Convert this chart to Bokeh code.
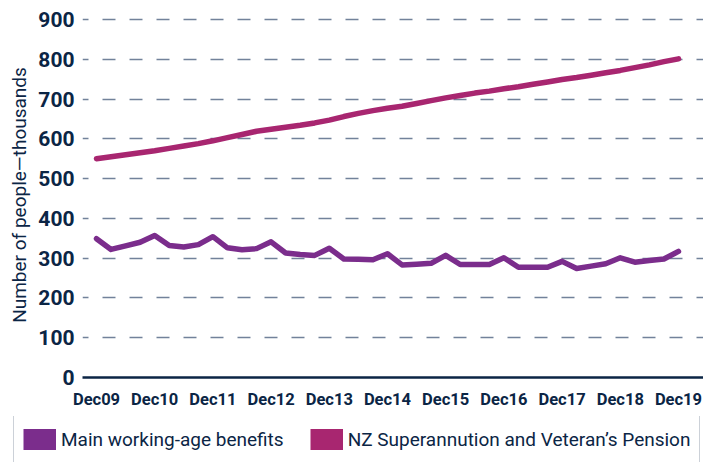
from bokeh.plotting import figure
from bokeh.layouts import column, row
from bokeh.models import (ColumnDataSource, Range1d, FixedTicker, Legend, LegendItem)
from bokeh.embed import file_html
from bokeh.resources import INLINE

# ---- data (thousands of people, quarterly Dec09 .. Dec19) ----
quarters = list(range(41))
benefits = [349, 322, 331, 340, 357, 332, 328, 334, 354, 326,
            321, 324, 341, 313, 309, 307, 325, 298, 297, 296,
            311, 283, 285, 287, 307, 284, 284, 284, 301, 277,
            277, 277, 292, 274, 280, 286, 301, 290, 294, 298,
            317]
superann = [550, 555, 560, 565, 570, 576, 582, 588, 595, 603,
            611, 619, 624, 629, 634, 640, 647, 656, 664, 671,
            677, 682, 689, 696, 703, 709, 715, 720, 726, 731,
            737, 743, 749, 754, 760, 766, 772, 779, 786, 794,
            801]
tick_quarters = [0, 4, 8, 12, 16, 20, 24, 28, 32, 36, 40]
tick_labels = ["Dec09", "Dec10", "Dec11", "Dec12", "Dec13", "Dec14",
               "Dec15", "Dec16", "Dec17", "Dec18", "Dec19"]
y_ticks = [0, 100, 200, 300, 400, 500, 600, 700, 800, 900]
series_names = ["Main working-age benefits",
                "NZ Superannution and Veteran\u2019s Pension"]

C_BEN = "#7b2d8c"
C_SUP = "#a82670"
NAVY = "#0b2545"
GRID = "#72829a"
FONT = "Roboto"

src = ColumnDataSource(dict(q=quarters, ben=benefits, sup=superann))

p = figure(width=703, height=416, output_backend="svg", toolbar_location=None,
           x_range=Range1d(-0.962, 41.72), y_range=Range1d(0, 917.6),
           min_border_left=82, min_border_right=0, min_border_top=12,
           min_border_bottom=39)
p.outline_line_color = None
p.background_fill_color = "white"

p.line("q", "sup", source=src, line_color=C_SUP, line_width=5.5,
       line_cap="round", line_join="round")
p.line("q", "ben", source=src, line_color=C_BEN, line_width=5.5,
       line_cap="round", line_join="round")

# axes
p.xaxis.ticker = FixedTicker(ticks=tick_quarters)
p.xaxis.major_label_overrides = {q: l for q, l in zip(tick_quarters, tick_labels)}
p.xaxis.major_label_text_font = FONT
p.xaxis.major_label_text_font_style = "bold"
p.xaxis.major_label_text_font_size = "16.5px"
p.xaxis.major_label_text_color = NAVY
p.xaxis.major_label_standoff = 12
p.xaxis.major_tick_out = 0
p.xaxis.major_tick_in = 0
p.xaxis.minor_tick_line_color = None
p.xaxis.axis_line_color = NAVY
p.xaxis.axis_line_width = 2.5

p.yaxis.ticker = FixedTicker(ticks=y_ticks)
p.yaxis.major_label_text_font = FONT
p.yaxis.major_label_text_font_style = "bold"
p.yaxis.major_label_text_font_size = "21px"
p.yaxis.major_label_text_color = NAVY
p.yaxis.major_label_standoff = 8
p.yaxis.major_tick_out = 0
p.yaxis.major_tick_in = 0
p.yaxis.minor_tick_line_color = None
p.yaxis.axis_line_color = None
p.yaxis.axis_label = "Number of people\u2014thousands"
p.yaxis.axis_label_text_font = FONT
p.yaxis.axis_label_text_font_style = "normal"
p.yaxis.axis_label_text_font_size = "19px"
p.yaxis.axis_label_text_color = NAVY
p.yaxis.axis_label_standoff = 4

p.xgrid.grid_line_color = None
p.ygrid.grid_line_color = GRID
p.ygrid.grid_line_width = 1.6
p.ygrid.grid_line_dash = "13 14"
p.ygrid.grid_line_dash_offset = 7

# ---- legend figure below the chart ----
lg = figure(width=703, height=46, output_backend="svg", toolbar_location=None,
            x_range=Range1d(0, 1), y_range=Range1d(0, 1),
            x_axis_type=None, y_axis_type=None,
            min_border=0, min_border_left=0, min_border_right=0,
            min_border_top=0, min_border_bottom=0)
lg.outline_line_color = None
lg.xgrid.grid_line_color = None
lg.ygrid.grid_line_color = None
# swatch-only renderers: one NaN point each, so nothing shows in the frame
nan_src = ColumnDataSource(dict(x=[float("nan")], y=[float("nan")]))
sw_ben = lg.line("x", "y", source=nan_src, line_color=C_BEN, line_width=21,
                 line_cap="butt")
sw_sup = lg.line("x", "y", source=nan_src, line_color=C_SUP, line_width=21,
                 line_cap="butt")

legend = Legend(items=[LegendItem(label=series_names[0], renderers=[sw_ben]),
                       LegendItem(label=series_names[1], renderers=[sw_sup])],
                orientation="horizontal", location=(13, -2))
legend.glyph_width = 33
legend.glyph_height = 30
legend.label_standoff = 5
legend.spacing = 26
legend.padding = 9
legend.margin = 0
legend.label_text_font = FONT
legend.label_text_font_size = "19px"
legend.label_text_color = NAVY
legend.border_line_color = "#9aa3b1"
legend.border_line_width = 1.5
legend.background_fill_color = "white"
legend.background_fill_alpha = 1
lg.add_layout(legend, "center")

open("out.html", "w").write(file_html(column(p, row(lg)), INLINE))
